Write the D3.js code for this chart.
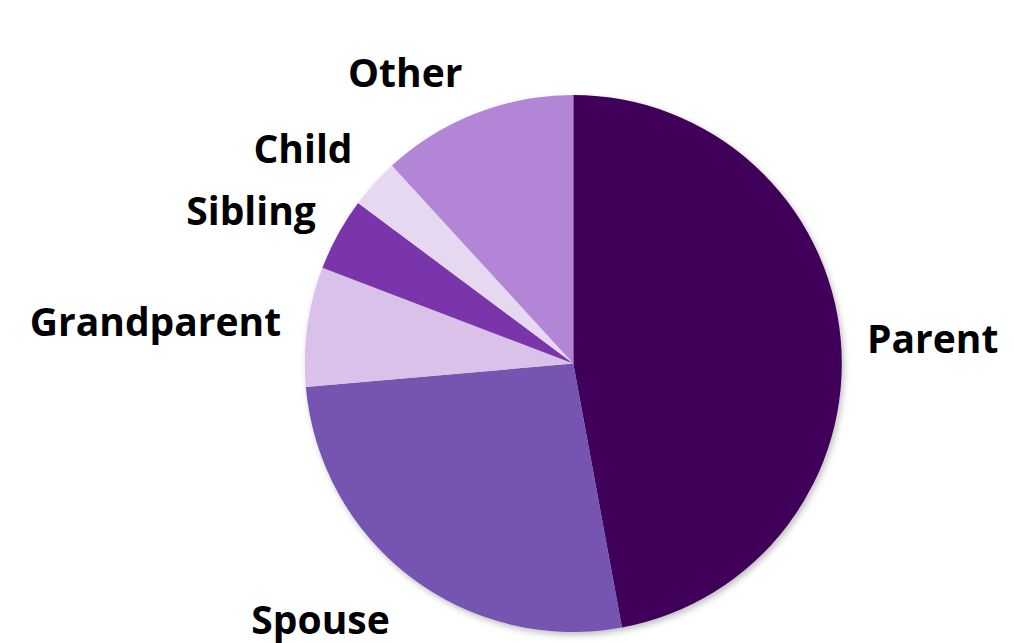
<!DOCTYPE html>
<html>
<head>
<meta charset="utf-8">
<script src="https://cdn.jsdelivr.net/npm/d3@7"></script>
<style>
  html, body { margin: 0; padding: 0; background: #ffffff; }
  svg { display: block; }
  .slice-label { font-family: "Open Sans", "Noto Sans", sans-serif; font-weight: 700; font-size: 39px; fill: #000; }
</style>
</head>
<body>
<svg id="chart" width="1014" height="643"></svg>
<script>
// Relationship categories, clockwise from 12 o'clock
const categories = ["Parent", "Spouse", "Grandparent", "Sibling", "Child", "Other"];
// Share of respondents, percent
const shares = [47.1, 26.5, 7.2, 4.4, 3.0, 11.8];
// Slice fills
const colors = ["#3f005a", "#7554b1", "#d9c1ea", "#7a36ab", "#e6d8f1", "#b385d6"];
// Small hand offsets for the outside labels [dx, dy]
const labelNudge = [[0, 4], [-5, 11], [0, 2], [1, -3], [-2, -7], [-4, -2]];

const width = 1014, height = 643;
const cx = 573.3, cy = 363.5, radius = 268.5;
const labelRadius = radius + 26.5;

const svg = d3.select("#chart");

const defs = svg.append("defs");
const shadow = defs.append("filter")
  .attr("id", "pieShadow")
  .attr("x", "-10%").attr("y", "-10%")
  .attr("width", "120%").attr("height", "120%");
shadow.append("feDropShadow")
  .attr("dx", 2).attr("dy", 3)
  .attr("stdDeviation", 3)
  .attr("flood-color", "#000")
  .attr("flood-opacity", 0.25);

const data = categories.map((c, i) => ({ name: c, value: shares[i], color: colors[i], nudge: labelNudge[i] }));

const pie = d3.pie().value(d => d.value).sort(null);
const arcs = pie(data);
const arc = d3.arc().innerRadius(0).outerRadius(radius);

const g = svg.append("g").attr("transform", `translate(${cx},${cy})`);

g.append("g")
  .attr("filter", "url(#pieShadow)")
  .selectAll("path")
  .data(arcs)
  .join("path")
  .attr("d", arc)
  .attr("fill", d => d.data.color);

// Labels sit just outside the rim, pushed away along the slice's mid-angle
g.selectAll("text.slice-label")
  .data(arcs)
  .join("text")
  .attr("class", "slice-label")
  .each(function (d) {
    const mid = (d.startAngle + d.endAngle) / 2;
    const s = Math.sin(mid), c = Math.cos(mid);
    const x = s * labelRadius + d.data.nudge[0];
    const yc = -c * labelRadius - c * 14 + d.data.nudge[1];
    d3.select(this)
      .attr("x", x)
      .attr("y", yc + 13.5)
      .attr("text-anchor", s < 0 ? "end" : "start")
      .text(d.data.name);
  });
</script>
</body>
</html>
